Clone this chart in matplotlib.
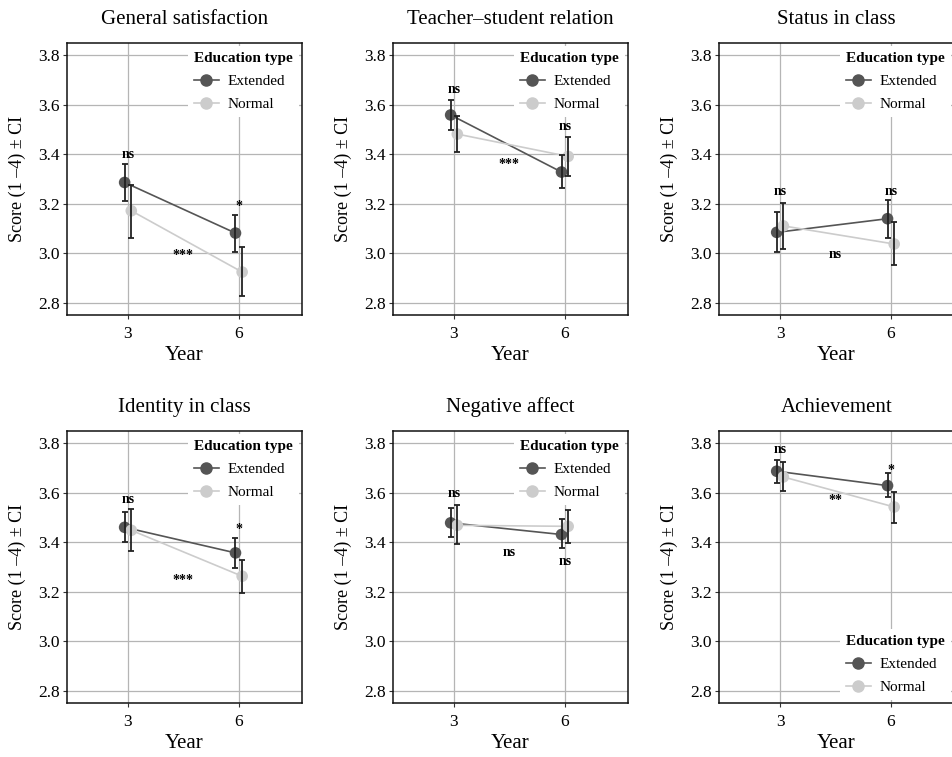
import numpy as np
import matplotlib.pyplot as plt
from matplotlib.lines import Line2D

plt.rcParams['font.family'] = ['Liberation Serif', 'DejaVu Serif']

titles = ['General satisfaction', 'Teacher\u2013student relation', 'Status in class',
          'Identity in class', 'Negative affect', 'Achievement']
years = ['3', '6']

# Extended: mean, lower CI, upper CI (year 3, year 6)
ext_mean = [[3.286, 3.082], [3.558, 3.328], [3.085, 3.140],
            [3.460, 3.357], [3.478, 3.431], [3.686, 3.628]]
ext_lo = [[3.212, 3.005], [3.498, 3.263], [3.005, 3.064],
          [3.400, 3.297], [3.421, 3.377], [3.639, 3.581]]
ext_hi = [[3.360, 3.156], [3.619, 3.397], [3.166, 3.216],
          [3.521, 3.415], [3.538, 3.494], [3.733, 3.677]]

# Normal
norm_mean = [[3.172, 2.925], [3.481, 3.391], [3.111, 3.038],
             [3.448, 3.263], [3.468, 3.464], [3.663, 3.542]]
norm_lo = [[3.064, 2.830], [3.408, 3.314], [3.019, 2.954],
           [3.366, 3.196], [3.391, 3.397], [3.605, 3.478]]
norm_hi = [[3.276, 3.024], [3.552, 3.468], [3.205, 3.126],
           [3.532, 3.330], [3.548, 3.529], [3.722, 3.601]]

# significance labels: year 3, year 6, change between years
sig_labels = [['ns', '*', '***'], ['ns', 'ns', '***'], ['ns', 'ns', 'ns'],
              ['ns', '*', '***'], ['ns', 'ns', 'ns'], ['ns', '*', '**']]
sig_y = [[3.40, 3.19, 2.99], [3.66, 3.51, 3.36], [3.25, 3.25, 2.995],
         [3.572, 3.45, 3.245], [3.595, 3.323, 3.357], [3.773, 3.69, 3.57]]

legend_loc = ['upper right'] * 5 + ['lower right']

c_ext = '#555555'
c_norm = '#cccccc'
dodge = 0.03

fig = plt.figure(figsize=(9.53, 7.57), dpi=100)
lefts = [0.0703, 0.4124, 0.7545]
bottoms = [0.5839, 0.0713]
w, h = 0.2466, 0.3593

x = np.arange(len(years))
for i in range(6):
    ax = fig.add_axes([lefts[i % 3], bottoms[i // 3], w, h])
    xe = x - dodge
    xn = x + dodge
    ax.plot(xe, ext_mean[i], color=c_ext, lw=1.2, zorder=3)
    ax.plot(xn, norm_mean[i], color=c_norm, lw=1.2, zorder=3)
    ax.scatter(xe, ext_mean[i], s=70, color=c_ext, zorder=4, edgecolors='none')
    ax.scatter(xn, norm_mean[i], s=70, color=c_norm, zorder=4, edgecolors='none')
    for xx, m, lo, hi in [(xe, ext_mean[i], ext_lo[i], ext_hi[i]),
                          (xn, norm_mean[i], norm_lo[i], norm_hi[i])]:
        m = np.array(m)
        err = [m - np.array(lo), np.array(hi) - m]
        ax.errorbar(xx, m, yerr=err, fmt='none', ecolor='#222222',
                    elinewidth=1.3, capsize=2.5, capthick=1.3, zorder=5)

    lab = sig_labels[i]
    ys = sig_y[i]
    ax.text(0, ys[0], lab[0], ha='center', va='center', fontsize=10,
            fontweight='bold', zorder=6)
    ax.text(1, ys[1], lab[1], ha='center', va='center', fontsize=10,
            fontweight='bold', zorder=6)
    ax.text(0.5, ys[2], lab[2], ha='center', va='center', fontsize=10,
            fontweight='bold', zorder=6)

    ax.set_xlim(-0.55, 1.57)
    ax.set_ylim(2.752, 3.848)
    ax.set_xticks(x)
    ax.set_xticklabels(years)
    ax.set_yticks([2.8, 3.0, 3.2, 3.4, 3.6, 3.8])
    ax.set_yticklabels(['2.8', '3.0', '3.2', '3.4', '3.6', '3.8'])
    ax.tick_params(labelsize=12.5, length=3, width=0.8, color='#333333', pad=2)
    ax.tick_params(axis='x', pad=5)
    ax.grid(True, color='#b5b5b5', lw=0.9)
    ax.set_axisbelow(True)
    for sp in ax.spines.values():
        sp.set_linewidth(1.1)
        sp.set_color('#111111')
    ax.set_title(titles[i], fontsize=15, pad=14)
    ax.set_xlabel('Year', fontsize=15, labelpad=3)
    ax.set_ylabel('Score (1 \u20134) \u00b1 CI', fontsize=13, labelpad=9)

    handles = [Line2D([], [], color=c_ext, marker='o', markersize=8, lw=1.2),
               Line2D([], [], color=c_norm, marker='o', markersize=8, lw=1.2)]
    leg = ax.legend(handles, ['Extended', 'Normal'], title='Education type',
                    loc=legend_loc[i], frameon=True, framealpha=1,
                    fontsize=11, title_fontproperties={'weight': 'bold', 'size': 11},
                    borderaxespad=0.2, handlelength=1.6, handletextpad=0.6,
                    labelspacing=0.6, alignment='left', borderpad=0.4)
    leg.get_frame().set_edgecolor('none')
    leg.set_zorder(7)

fig.savefig('out.png', dpi=100)
